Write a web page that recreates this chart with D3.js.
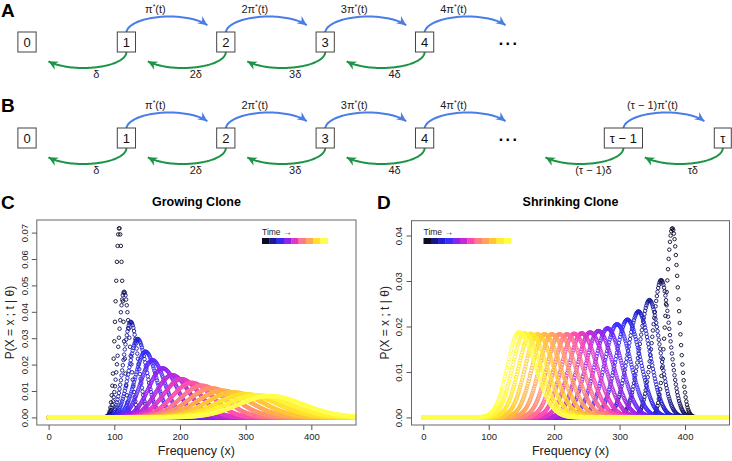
<!DOCTYPE html>
<html><head><meta charset="utf-8">
<script src="https://cdn.jsdelivr.net/npm/d3@7"></script>
<style>
body{margin:0;background:#fff}
svg{display:block;font-family:"Liberation Sans",Arial,Helvetica,sans-serif}
</style>
</head><body>
<svg id="fig" width="732" height="461"></svg>
<script>
// ---------------- data ----------------
// Panels A/B: state chain
const nodeLabelsA = ["0","1","2","3","4"];
const nodeIndexA  = [0,1,2,3,4];
const nodeLabelsB = ["0","1","2","3","4","τ − 1","τ"];
const nodeIndexB  = [0,1,2,3,4,6,7];
const birthCoef   = ["", "2", "3", "4"];          // k·π*(t) from node k
const deathLabels = ["δ", "2δ", "3δ", "4δ"];       // k·δ from node k
const birthCoefTail = ["(τ − 1)"];                // from node τ−1
const deathLabelsTail = ["(τ − 1)δ", "τδ"];        // from τ−1 and τ

// Panel C: growing clone (peak position, peak probability, right/left width ratio)
const growPeakX = [107.5,115,125,135.5,147.5,158,173.5,188,202,217.5,233,248,264,281,299,316.5,336];
const growPeakY = [0.0719,0.0476,0.0362,0.0297,0.0249,0.0217,0.0186,0.0160,0.0145,0.0131,0.0120,0.0110,0.0101,0.0095,0.0088,0.0084,0.0081];
const growSkew  = [1,1,1.02,1.03,1.04,1.05,1.05,1.06,1.06,1.07,1.07,1.08,1.08,1.08,1.09,1.09,1.1];
// Panel D: shrinking clone
const shrinkPeakX = [380.7,363.5,345.6,328.8,312,296,281.4,267.6,254.9,242,230.4,219.3,208,196.3,185,174.3,164,154.4,146.3];
const shrinkPeakY = [0.0416,0.0302,0.0258,0.0233,0.0215,0.0205,0.0196,0.0190,0.0187,0.0185,0.0184,0.0183,0.0183,0.0183,0.0183,0.0183,0.0184,0.0185,0.0187];
const shrinkSkew  = [1.0,1.02,1.05,1.08,1.1,1.13,1.15,1.18,1.2,1.22,1.25,1.27,1.3,1.32,1.34,1.36,1.38,1.4,1.42];

const xTicks = [0,100,200,300,400];
const growYTicks = [0,0.01,0.02,0.03,0.04,0.05,0.06,0.07];
const shrinkYTicks = [0,0.01,0.02,0.03,0.04];
const xDataRange = [0,450];
const paletteStops = ["#0b0b26","#17177d","#1f1fd9","#3a2cff","#8a22f2","#c12ad6","#ff45b4","#ff7e86","#ffa35a","#ffc833","#ffee2a","#ffff4a"];
const legendBlocksC = 9, legendBlocksD = 12;

// ---------------- drawing ----------------
const svg = d3.select("#fig");
const FONT = '"Liberation Sans",Arial,sans-serif';
const BLUE = "#4a7de8", GREEN = "#1b9446";
const pal = d3.piecewise(d3.interpolateRgb, paletteStops);

// panel letters
[["A",1,17],["B",1,112],["C",1,209],["D",377,209]].forEach(([t,x,y])=>{
  svg.append("text").attr("x",x).attr("y",y).attr("font-size",19).attr("font-weight","bold").text(t);
});

const nodeX = d3.scaleLinear().domain([0,1]).range([27,126.4]);

function arrowHead(g, x, y, ang, color){
  g.append("path")
   .attr("d","M0,0 L-9.5,-4.5 L-6.5,0 L-9.5,4.5 Z")
   .attr("transform",`translate(${x},${y}) rotate(${ang*180/Math.PI})`)
   .attr("fill",color);
}
function blueArc(g, x0, yTop, label){
  const rx=43, ry=16.5, cx=x0+rx, cy=yTop+1, tEnd=0.49;
  const pts = d3.range(Math.PI, tEnd-1e-9, -(Math.PI-tEnd)/60).map(t=>[cx+rx*Math.cos(t), cy-ry*Math.sin(t)]);
  g.append("path").attr("d",d3.line()(pts)).attr("fill","none").attr("stroke",BLUE).attr("stroke-width",2);
  const ang = Math.atan2(ry*Math.cos(tEnd), rx*Math.sin(tEnd));
  arrowHead(g, cx+rx*Math.cos(tEnd), cy-ry*Math.sin(tEnd), ang, BLUE);
  const t = g.append("text").attr("x",x0+29).attr("y",yTop-19).attr("text-anchor","middle").attr("font-size",11).attr("fill","#222");
  t.append("tspan").text(label+"π");
  t.append("tspan").attr("dy",-4).attr("font-size",7).text("*");
  t.append("tspan").attr("dy",4).text("(t)");
}
function greenArc(g, x0, yBot, label){
  const rx=43, ry=16, cx=x0-rx, cy=yBot, tEnd=2.52;
  const pts = d3.range(0, tEnd+1e-9, tEnd/60).map(t=>[cx+rx*Math.cos(t), cy+ry*Math.sin(t)]);
  g.append("path").attr("d",d3.line()(pts)).attr("fill","none").attr("stroke",GREEN).attr("stroke-width",2);
  const ang = Math.atan2(ry*Math.cos(tEnd), -rx*Math.sin(tEnd));
  arrowHead(g, cx+rx*Math.cos(tEnd), cy+ry*Math.sin(tEnd), ang, GREEN);
  g.append("text").attr("x",x0-30).attr("y",yBot+26).attr("text-anchor","middle").attr("font-size",11).attr("fill","#222").text(label);
}
function chain(yc, labels, idx, withTail){
  const g = svg.append("g");
  const yTop = yc-10, yBot = yc+10;
  for(let k=1;k<=4;k++){
    blueArc(g, nodeX(idx[k]), yTop, birthCoef[k-1]);
    greenArc(g, nodeX(idx[k]), yBot, deathLabels[k-1]);
  }
  if(withTail){
    blueArc(g, nodeX(idx[5]), yTop, birthCoefTail[0]);
    greenArc(g, nodeX(idx[5]), yBot, deathLabelsTail[0]);
    greenArc(g, nodeX(idx[6]), yBot, deathLabelsTail[1]);
  }
  g.append("text").attr("x",nodeX(4.85)).attr("y",yc+3).attr("text-anchor","middle")
   .attr("font-size",16).attr("font-weight","bold").attr("letter-spacing",2.5).text("...");
  labels.forEach((lab,i)=>{
    const x = nodeX(idx[i]);
    const ng = g.append("g");
    const r = ng.append("rect");
    const t = ng.append("text").attr("x",x).attr("y",yc+4.6).attr("text-anchor","middle").attr("font-size",13).attr("fill","#111").text(lab);
    const w = Math.max(17, t.node().getComputedTextLength()+11);
    r.attr("x",x-w/2).attr("y",yTop).attr("width",w).attr("height",20).attr("fill","#fff").attr("stroke","#444").attr("stroke-width",1);
  });
}
chain(42, nodeLabelsA, nodeIndexA, false);
chain(138, nodeLabelsB, nodeIndexB, true);

// ---------------- distribution panels ----------------
let clipId = 0;
function panel(o){
  const x = d3.scaleLinear()
    .domain([xDataRange[0]-0.04*(xDataRange[1]-xDataRange[0]), xDataRange[1]+0.04*(xDataRange[1]-xDataRange[0])])
    .range([o.left,o.right]);
  const yMax = d3.max(o.peakY);
  const y = d3.scaleLinear().domain([-0.04*yMax, 1.04*yMax]).range([o.bottom,o.top]);
  const g = svg.append("g");
  const id = "clip"+(clipId++);
  svg.append("clipPath").attr("id",id).append("rect")
    .attr("x",o.left).attr("y",o.top).attr("width",o.right-o.left).attr("height",o.bottom-o.top);

  const n = o.peakX.length;
  const grid = d3.range(0, 471, 1);
  const pts = [];
  o.peakX.forEach((mu,i)=>{
    const h = o.peakY[i], s = o.skew[i];
    const sAvg = 1/(h*Math.sqrt(2*Math.PI));
    const sL = 2*sAvg/(1+s), sR = s*sL;
    const col = pal(n===1?0:i/(n-1));
    grid.forEach(xx=>{
      const sd = xx<mu ? sL : sR;
      pts.push({x:xx, y:h*Math.exp(-0.5*((xx-mu)/sd)**2), c:col});
    });
  });
  g.append("g").attr("clip-path",`url(#${id})`)
   .selectAll("circle").data(pts).join("circle")
   .attr("cx",d=>x(d.x)).attr("cy",d=>y(d.y)).attr("r",1.75)
   .attr("fill","none").attr("stroke",d=>d.c).attr("stroke-width",0.9);

  g.append("rect").attr("x",o.left).attr("y",o.top).attr("width",o.right-o.left).attr("height",o.bottom-o.top)
   .attr("fill","none").attr("stroke","#666").attr("stroke-width",1);

  const ax = g.append("g").attr("transform",`translate(0,${o.bottom})`)
    .call(d3.axisBottom(x).tickValues(xTicks).tickSize(5).tickFormat(d3.format("d")));
  ax.select(".domain").remove();
  ax.selectAll("line").attr("stroke","#555");
  ax.selectAll("text").attr("y",15).attr("dy",0).attr("font-size",9.5).attr("font-family",FONT).attr("fill","#222");
  const ay = g.append("g").attr("transform",`translate(${o.left},0)`)
    .call(d3.axisLeft(y).tickValues(o.yTicks).tickSize(5).tickFormat(d3.format(".2f")));
  ay.select(".domain").remove();
  ay.selectAll("line").attr("stroke","#555");
  ay.selectAll("text").attr("x",0).attr("y",-9.2).attr("dy",0).attr("text-anchor","middle")
    .attr("transform","rotate(-90)").attr("font-size",9.5).attr("font-family",FONT).attr("fill","#222");

  const cxm = (o.left+o.right)/2;
  g.append("text").attr("x",cxm).attr("y",206).attr("text-anchor","middle").attr("font-size",12.5).attr("font-weight","bold").text(o.title);
  g.append("text").attr("x",cxm).attr("y",455).attr("text-anchor","middle").attr("font-size",12.5).attr("fill","#222").text("Frequency (x)");
  g.append("text").attr("transform",`translate(${o.left-22.5},${(o.top+o.bottom)/2}) rotate(-90)`)
   .attr("text-anchor","middle").attr("font-size",12).attr("fill","#222").text("P(X = x ; t  |  θ)");

  g.append("text").attr("x",o.legX).attr("y",235).attr("font-size",8.5).attr("fill","#222").text("Time →");
  const bw = 7.3;
  d3.range(o.legN).forEach(k=>{
    g.append("rect").attr("x",o.legX+k*bw).attr("y",238).attr("width",bw+0.3).attr("height",6)
     .attr("fill",pal(k/(o.legN-1)));
  });
}

panel({left:36.8, right:356, top:220, bottom:425, peakX:growPeakX, peakY:growPeakY, skew:growSkew,
       yTicks:growYTicks, title:"Growing Clone", legX:262, legN:legendBlocksC});
panel({left:411.5, right:729.5, top:220.7, bottom:425, peakX:shrinkPeakX, peakY:shrinkPeakY, skew:shrinkSkew,
       yTicks:shrinkYTicks, title:"Shrinking Clone", legX:423.5, legN:legendBlocksD});
</script>
</body></html>
